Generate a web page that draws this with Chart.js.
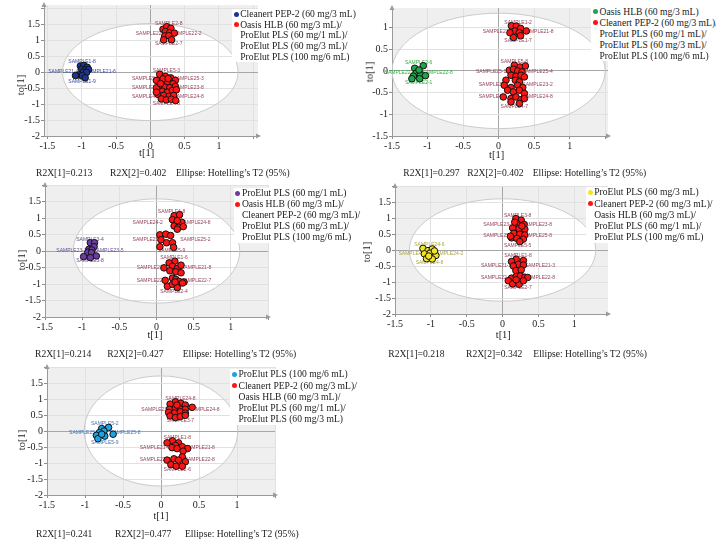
<!DOCTYPE html>
<html>
<head>
<meta charset="utf-8">
<script src="https://cdn.jsdelivr.net/npm/chart.js@4.4.0/dist/chart.umd.min.js"></script>
<style>
  html, body { margin: 0; padding: 0; background: #fff; }
  #page { position: relative; width: 716px; height: 546px; overflow: hidden;
          font-family: "Liberation Serif", "Times New Roman", serif; color: #222; }
  #page canvas { position: absolute; }
  .txt { position: absolute; white-space: nowrap; line-height: 1; }
  .dot { position: absolute; width: 5px; height: 5px; border-radius: 50%; }
  .legbox { position: absolute; background: #fff; }
</style>
</head>
<body>
<div id="page"></div>
<script>
// ---------- tick labels ----------
const xTickLabels = ['-1.5', '-1', '-0.5', '0', '0.5', '1'];
const yTickLabels = ['-2', '-1.5', '-1', '-0.5', '0', '0.5', '1', '1.5'];

// ---------- scores: [t[1], to[1]] ----------
// Panel 1: Cleanert PEP-2 vs. the other cartridges
const p1Group = [[-1.02,0.19],[-0.97,0.21],[-0.92,0.15],[-1.0,0.09],[-0.95,0.07],[-0.90,0.08],
  [-0.98,0.0],[-0.93,-0.01],[-1.04,-0.09],[-0.99,-0.11],[-0.95,-0.18],[-1.09,-0.11]];
const p1RestUpper = [[0.185,1.34],[0.24,1.42],[0.30,1.37],[0.22,1.27],[0.28,1.23],[0.35,1.22],
  [0.21,1.13],[0.27,1.14],[0.195,1.01],[0.31,1.01]];
const p1RestLower = [[0.137,-0.07],[0.22,-0.135],[0.297,-0.18],[0.365,-0.26],[0.089,-0.26],[0.176,-0.29],
  [0.249,-0.31],[0.331,-0.365],[0.137,-0.43],[0.21,-0.47],[0.283,-0.49],[0.365,-0.45],[0.089,-0.49],
  [0.176,-0.60],[0.249,-0.63],[0.322,-0.575],[0.38,-0.555],[0.113,-0.70],[0.195,-0.73],[0.273,-0.76],
  [0.341,-0.73],[0.161,-0.84],[0.234,-0.87],[0.307,-0.85],[0.37,-0.89],[0.089,-0.63],[0.185,-0.21],
  [0.26,-0.2],[0.15,-0.36]];

// Panel 2: Oasis HLB vs. the other cartridges
const p2Group = [[-1.06,0.12],[-1.18,0.06],[-1.13,-0.01],[-1.16,-0.05],[-1.10,-0.08],[-1.03,-0.11],
  [-1.20,-0.12],[-1.22,-0.18],[-1.11,-0.18],[-1.12,0.02]];
const p2RestUpper = [[0.18,1.04],[0.25,1.03],[0.31,0.98],[0.39,0.92],[0.23,0.92],[0.16,0.88],
  [0.29,0.88],[0.31,0.81],[0.21,0.77]];
const p2RestLower = [[0.222,0.13],[0.302,0.09],[0.377,0.115],[0.151,0.016],[0.208,0.04],[0.269,0.0],
  [0.33,-0.023],[0.175,-0.1],[0.245,-0.122],[0.316,-0.1],[0.363,-0.138],[0.104,-0.214],[0.236,-0.214],
  [0.293,-0.253],[0.08,-0.33],[0.175,-0.383],[0.269,-0.33],[0.34,-0.383],[0.127,-0.445],[0.208,-0.484],
  [0.293,-0.445],[0.363,-0.52],[0.066,-0.6],[0.175,-0.636],[0.245,-0.6],[0.316,-0.66],[0.363,-0.636],
  [0.175,-0.714],[0.293,-0.75]];

// Panel 3: ProElut PLS (60 mg/1 mL) vs. the other cartridges
const p3Group = [[-0.89,0.25],[-0.835,0.25],[-0.84,0.13],[-0.91,0.05],[-0.87,0.03],[-0.925,-0.04],
  [-0.875,-0.05],[-0.81,-0.15],[-0.98,-0.17],[-0.89,-0.2]];
const p3RestUpper = [[0.237,1.07],[0.31,1.10],[0.215,0.95],[0.27,0.85],[0.34,0.87],[0.237,0.76],
  [0.295,0.72],[0.36,0.74],[0.045,0.49],[0.125,0.51],[0.19,0.47],[0.06,0.34],[0.135,0.25],[0.215,0.25],
  [0.045,0.13],[0.23,0.11],[0.28,0.92],[0.28,0.66]];
const p3RestLower = [[0.246,-0.31],[0.17,-0.36],[0.10,-0.51],[0.215,-0.46],[0.28,-0.53],[0.33,-0.43],
  [0.18,-0.60],[0.26,-0.63],[0.33,-0.66],[0.117,-0.89],[0.215,-0.82],[0.26,-0.86],[0.30,-0.92],
  [0.37,-0.94],[0.147,-1.07],[0.215,-1.01],[0.28,-1.11],[0.35,-0.97],[0.25,-0.94]];

// Panel 4: ProElut PLS (60 mg/3 mL) vs. the other cartridges
const p4Group = [[-1.11,0.05],[-1.04,-0.02],[-0.98,0.03],[-1.09,-0.12],[-1.01,-0.10],[-0.93,-0.17],
  [-1.06,-0.27],[-0.98,-0.28],[-0.95,-0.03],[-1.03,-0.19]];
const p4RestUpper = [[0.185,0.98],[0.26,0.93],[0.20,0.83],[0.30,0.80],[0.14,0.69],[0.23,0.67],
  [0.31,0.65],[0.157,0.52],[0.24,0.49],[0.31,0.47],[0.125,0.38],[0.20,0.36],[0.29,0.34],[0.24,0.26],
  [0.11,0.43],[0.27,0.75],[0.17,0.87]];
const p4RestLower = [[0.19,-0.29],[0.29,-0.33],[0.125,-0.36],[0.22,-0.45],[0.29,-0.47],[0.15,-0.50],
  [0.185,-0.64],[0.26,-0.62],[0.125,-0.88],[0.19,-0.83],[0.25,-0.81],[0.31,-0.85],[0.35,-0.86],
  [0.08,-0.96],[0.14,-1.06],[0.23,-1.07],[0.29,-0.96],[0.19,-0.93]];

// Panel 5: ProElut PLS (100 mg/6 mL) vs. the other cartridges
const p5Group = [[-0.69,0.11],[-0.78,0.075],[-0.75,0.0],[-0.81,-0.05],[-0.63,-0.10],[-0.74,-0.16],
  [-0.85,-0.135],[-0.83,-0.24],[-0.78,-0.10]];
const p5RestUpper = [[0.19,0.91],[0.26,0.87],[0.32,0.81],[0.12,0.84],[0.11,0.68],[0.19,0.71],
  [0.255,0.68],[0.32,0.68],[0.41,0.74],[0.10,0.58],[0.18,0.56],[0.255,0.60],[0.32,0.56],[0.12,0.47],
  [0.19,0.42],[0.255,0.45],[0.32,0.49],[0.21,0.81]];
const p5RestLower = [[0.15,-0.31],[0.08,-0.37],[0.23,-0.37],[0.19,-0.45],[0.28,-0.49],[0.145,-0.52],
  [0.21,-0.55],[0.35,-0.55],[0.29,-0.63],[0.28,-0.81],[0.08,-0.91],[0.17,-0.87],[0.23,-0.91],
  [0.32,-0.96],[0.13,-1.05],[0.20,-1.10],[0.28,-1.10]];

// ---------- Hotelling's T2 (95%) ellipse semi-axes [t, to] ----------
const p1Ellipse = [1.28, 1.52];
const p2Ellipse = [1.50, 1.33];
const p3Ellipse = [1.12, 1.58];
const p4Ellipse = [1.30, 1.60];
const p5Ellipse = [1.01, 1.72];

// ---------- legends and model statistics ----------
const p1Legend = ['Cleanert PEP-2 (60 mg/3 mL)', 'Oasis HLB (60 mg/3 mL)/', 'ProElut PLS (60 mg/1 mL)/',
  'ProElut PLS (60 mg/3 mL)/', 'ProElut PLS (100 mg/6 mL)'];
const p2Legend = ['Oasis HLB (60 mg/3 mL)', 'Cleanert PEP-2 (60 mg/3 mL)/', 'ProElut PLS (60 mg/1 mL)/',
  'ProElut PLS (60 mg/3 mL)/', 'ProElut PLS (100 mg/6 mL)'];
const p3Legend = ['ProElut PLS (60 mg/1 mL)', 'Oasis HLB (60 mg/3 mL)/', 'Cleanert PEP-2 (60 mg/3 mL)/',
  'ProElut PLS (60 mg/3 mL)/', 'ProElut PLS (100 mg/6 mL)'];
const p4Legend = ['ProElut PLS (60 mg/3 mL)', 'Cleanert PEP-2 (60 mg/3 mL)/', 'Oasis HLB (60 mg/3 mL)/',
  'ProElut PLS (60 mg/1 mL)/', 'ProElut PLS (100 mg/6 mL)'];
const p5Legend = ['ProElut PLS (100 mg/6 mL)', 'Cleanert PEP-2 (60 mg/3 mL)/', 'Oasis HLB (60 mg/3 mL)/',
  'ProElut PLS (60 mg/1 mL)/', 'ProElut PLS (60 mg/3 mL)'];

const p1Stats = ['R2X[1]=0.213', 'R2X[2]=0.402', 'Ellipse: Hotelling\u2019s T2 (95%)'];
const p2Stats = ['R2X[1]=0.297', 'R2X[2]=0.402', 'Ellipse: Hotelling\u2019s T2 (95%)'];
const p3Stats = ['R2X[1]=0.214', 'R2X[2]=0.427', 'Ellipse: Hotelling\u2019s T2 (95%)'];
const p4Stats = ['R2X[1]=0.218', 'R2X[2]=0.342', 'Ellipse: Hotelling\u2019s T2 (95%)'];
const p5Stats = ['R2X[1]=0.241', 'R2X[2]=0.477', 'Ellipse: Hotelling\u2019s T2 (95%)'];

// ---------- observation name tags around each cluster ----------
const p1Tags = [
  { top: 'SAMPLE1-8', left: ['SAMPLE21-4'], right: ['SAMPLE21-6'], bottom: 'SAMPLE1-9' },
  { top: 'SAMPLE2-8', left: ['SAMPLE22-3'], right: ['SAMPLE22-2'], bottom: 'SAMPLE2-7' },
  { top: 'SAMPLE5-3', left: ['SAMPLE5-6', 'SAMPLE3-2', 'SAMPLE4-1'], right: ['SAMPLE25-3', 'SAMPLE23-8', 'SAMPLE24-8'], bottom: 'SAMPLE4-8' }];
const p2Tags = [
  { top: 'SAMPLE2-6', left: ['SAMPLE22-4'], right: ['SAMPLE22-8'], bottom: 'SAMPLE2-1' },
  { top: 'SAMPLE1-2', left: ['SAMPLE21-3'], right: ['SAMPLE21-8'], bottom: 'SAMPLE1-7' },
  { top: 'SAMPLE5-8', left: ['SAMPLE25-1', 'SAMPLE3-4', 'SAMPLE4-3'], right: ['SAMPLE25-4', 'SAMPLE23-2', 'SAMPLE24-8'], bottom: 'SAMPLE4-7' }];
const p3Tags = [
  { top: 'SAMPLE3-4', left: ['SAMPLE23-1'], right: ['SAMPLE23-5'], bottom: 'SAMPLE3-8' },
  { top: 'SAMPLE4-8', left: ['SAMPLE24-2', 'SAMPLE25-1'], right: ['SAMPLE24-8', 'SAMPLE25-2'], bottom: 'SAMPLE5-9' },
  { top: 'SAMPLE1-6', left: ['SAMPLE21-3', 'SAMPLE22-1'], right: ['SAMPLE21-8', 'SAMPLE22-7'], bottom: 'SAMPLE2-4' }];
const p4Tags = [
  { top: 'SAMPLE24-6', left: ['SAMPLE4-1'], right: ['SAMPLE24-2'], bottom: 'SAMPLE4-8' },
  { top: 'SAMPLE3-8', left: ['SAMPLE23-1', 'SAMPLE25-3'], right: ['SAMPLE23-8', 'SAMPLE25-8'], bottom: 'SAMPLE5-5' },
  { top: 'SAMPLE1-8', left: ['SAMPLE21-2', 'SAMPLE22-3'], right: ['SAMPLE21-3', 'SAMPLE22-8'], bottom: 'SAMPLE2-7' }];
const p5Tags = [
  { top: 'SAMPLE5-2', left: ['SAMPLE25-4'], right: ['SAMPLE25-8'], bottom: 'SAMPLE5-9' },
  { top: 'SAMPLE24-8', left: ['SAMPLE23-6'], right: ['SAMPLE24-8'], bottom: 'SAMPLE3-7' },
  { top: 'SAMPLE1-8', left: ['SAMPLE21-6', 'SAMPLE22-3'], right: ['SAMPLE21-8', 'SAMPLE22-8'], bottom: 'SAMPLE2-6' }];

// ---------- panel layout (page pixels) and styling ----------
const REST_COLOR = '#ff1414';
const REST_TAG = '#93435c';
const panels = [
  { area: [44, 5, 258, 136], xr: [-1.55, 1.57], yr: [-2, 2.1], ellipse: p1Ellipse,
    color: '#1d3591', tagColor: '#3c4c9e', group: p1Group, rest: [p1RestUpper, p1RestLower], tags: p1Tags,
    legend: p1Legend, stats: p1Stats, legendAt: [236, 14, 10.7], statsAt: [172.7, 36, 110, 176],
    xTitleAt: [146.7, 153], yTitleAt: [20.7, 85] },
  { area: [392, 8, 608, 136], xr: [-1.5, 1.54], yr: [-1.5, 1.45], ellipse: p2Ellipse,
    color: '#1fa64b', tagColor: '#35b045', group: p2Group, rest: [p2RestUpper, p2RestLower], tags: p2Tags,
    legend: p2Legend, stats: p2Stats, legendAt: [595.3, 11.7, 11], statsAt: [172.7, 403.3, 467.3, 532.7],
    xTitleAt: [496.7, 155], yTitleAt: [370, 71.7] },
  { area: [45, 185, 268, 317], xr: [-1.5, 1.5], yr: [-2, 2], ellipse: p3Ellipse,
    color: '#6a3d9e', tagColor: '#654a90', group: p3Group, rest: [p3RestUpper, p3RestLower], tags: p3Tags,
    legend: p3Legend, stats: p3Stats, legendAt: [237.7, 193.3, 11], statsAt: [354, 35, 107.3, 182.7],
    xTitleAt: [155, 335], yTitleAt: [21.7, 260] },
  { area: [395, 186, 608, 314], xr: [-1.5, 1.47], yr: [-2, 2], ellipse: p4Ellipse,
    color: '#f3e526', tagColor: '#a9a647', group: p4Group, rest: [p4RestUpper, p4RestLower], tags: p4Tags,
    legend: p4Legend, stats: p4Stats, legendAt: [590, 192.3, 11.2], statsAt: [354, 388.3, 466, 533.3],
    xTitleAt: [503.3, 335], yTitleAt: [366.7, 251.7] },
  { area: [47, 367, 275, 495], xr: [-1.5, 1.5], yr: [-2, 2], ellipse: p5Ellipse,
    color: '#1fa2e2', tagColor: '#4474b3', group: p5Group, rest: [p5RestUpper, p5RestLower], tags: p5Tags,
    legend: p5Legend, stats: p5Stats, legendAt: [234.3, 374.3, 11.2], statsAt: [534, 36, 115, 185],
    xTitleAt: [161, 516], yTitleAt: [21.7, 440] }
];

const page = document.getElementById('page');
const fmt = v => String(Math.round(v * 10) / 10);

function addText(text, x, y, size, extra) {
  const d = document.createElement('div');
  d.className = 'txt';
  d.textContent = text;
  d.style.left = x + 'px';
  d.style.top = y + 'px';
  d.style.fontSize = size + 'px';
  d.style.transform = extra || 'translateY(-50%)';
  page.appendChild(d);
  return d;
}

// Background, confidence ellipse, observation tags and axis arrows for one score plot
function scoreDecor(p) {
  const ellipsePath = (ctx, x, y) => {
    const cx = x.getPixelForValue(0), cy = y.getPixelForValue(0);
    const rx = x.getPixelForValue(p.ellipse[0]) - cx;
    const ry = cy - y.getPixelForValue(p.ellipse[1]);
    ctx.beginPath();
    ctx.ellipse(cx, cy, rx, ry, 0, 0, Math.PI * 2);
  };
  const clipArea = (ctx, a) => { ctx.beginPath(); ctx.rect(a.left, a.top, a.width, a.height); ctx.clip(); };
  return {
    id: 'scoreDecor',
    beforeDraw(chart) {
      const { ctx, chartArea: a, scales: { x, y } } = chart;
      ctx.save();
      ctx.fillStyle = '#efefef';
      ctx.fillRect(a.left, a.top, a.width, a.height);
      clipArea(ctx, a);
      ellipsePath(ctx, x, y);
      ctx.fillStyle = '#ffffff';
      ctx.fill();
      ctx.restore();
    },
    beforeDatasetsDraw(chart) {
      const { ctx, chartArea: a, scales: { x, y } } = chart;
      ctx.save();
      clipArea(ctx, a);
      ellipsePath(ctx, x, y);
      ctx.strokeStyle = '#cbcbcb';
      ctx.lineWidth = 1;
      ctx.stroke();
      ctx.restore();

      ctx.save();
      ctx.font = '5px "Liberation Sans", Arial, sans-serif';
      const clusters = [p.group, ...p.rest];
      clusters.forEach((pts, k) => {
        const tag = p.tags[k];
        const px = pts.map(d => x.getPixelForValue(d[0]));
        const py = pts.map(d => y.getPixelForValue(d[1]));
        const x0 = Math.min(...px), x1 = Math.max(...px);
        const y0 = Math.min(...py), y1 = Math.max(...py);
        const xc = (x0 + x1) / 2;
        ctx.fillStyle = k === 0 ? p.tagColor : REST_TAG;
        ctx.textAlign = 'center';
        ctx.textBaseline = 'bottom';
        ctx.fillText(tag.top, xc, y0 - 1);
        ctx.textBaseline = 'top';
        ctx.fillText(tag.bottom, xc, y1 + 1);
        ctx.textBaseline = 'middle';
        ctx.textAlign = 'right';
        tag.left.forEach((t, i) => ctx.fillText(t, x0 + 3, y0 + (i + 0.5) * (y1 - y0) / tag.left.length));
        ctx.textAlign = 'left';
        tag.right.forEach((t, i) => ctx.fillText(t, x1 - 3, y0 + (i + 0.5) * (y1 - y0) / tag.right.length));
      });
      ctx.restore();
    },
    afterDraw(chart) {
      const { ctx, chartArea: a } = chart;
      ctx.save();
      ctx.fillStyle = '#9a9a9a';
      ctx.beginPath();
      ctx.moveTo(a.right + 3, a.bottom);
      ctx.lineTo(a.right - 2, a.bottom - 2.5);
      ctx.lineTo(a.right - 2, a.bottom + 2.5);
      ctx.closePath();
      ctx.fill();
      ctx.beginPath();
      ctx.moveTo(a.left, a.top - 3);
      ctx.lineTo(a.left - 2.5, a.top + 2);
      ctx.lineTo(a.left + 2.5, a.top + 2);
      ctx.closePath();
      ctx.fill();
      ctx.restore();
    }
  };
}

function axisOptions(range, labels, isX) {
  return {
    type: 'linear',
    min: range[0],
    max: range[1],
    afterFit: s => { if (isX) s.height = 16; else s.width = 34; },
    ticks: {
      stepSize: 0.5,
      includeBounds: false,
      autoSkip: false,
      maxRotation: 0,
      padding: 1,
      color: '#222',
      font: { family: '"Liberation Serif", "Times New Roman", serif', size: 10 },
      callback: v => { const s = fmt(v); return labels.includes(s) ? s : ''; }
    },
    grid: {
      color: c => (c.tick && Math.abs(c.tick.value) < 1e-9) ? '#a6a6a6' : '#e1e1e1',
      lineWidth: 1,
      tickLength: 3,
      tickColor: '#8c8c8c'
    },
    border: { display: true, color: '#9a9a9a', width: 1 }
  };
}

function buildPanel(p) {
  const [L, T, R, B] = p.area;
  const YW = 34, XH = 16, PT = 8, PR = 8;
  const w = R - L + YW + PR, h = B - T + XH + PT;
  const canvas = document.createElement('canvas');
  canvas.width = w; canvas.height = h;
  canvas.style.left = (L - YW) + 'px';
  canvas.style.top = (T - PT) + 'px';
  canvas.style.width = w + 'px';
  canvas.style.height = h + 'px';
  page.appendChild(canvas);

  const toXY = arr => arr.map(d => ({ x: d[0], y: d[1] }));
  const pointStyle = color => ({ backgroundColor: color, borderColor: '#111', borderWidth: 1,
                                 pointRadius: 3.3, pointHoverRadius: 3.3 });
  new Chart(canvas, {
    type: 'scatter',
    data: {
      datasets: [
        Object.assign({ data: toXY(p.group) }, pointStyle(p.color)),
        ...p.rest.map(r => Object.assign({ data: toXY(r) }, pointStyle(REST_COLOR)))
      ]
    },
    options: {
      responsive: false,
      animation: false,
      devicePixelRatio: 1,
      layout: { padding: { top: PT, right: PR, left: 0, bottom: 0 } },
      plugins: { legend: { display: false }, tooltip: { enabled: false } },
      scales: { x: axisOptions(p.xr, xTickLabels, true), y: axisOptions(p.yr, yTickLabels, false) }
    },
    plugins: [scoreDecor(p)]
  });

  // axis titles
  addText('t[1]', p.xTitleAt[0], p.xTitleAt[1], 10.5, 'translate(-50%,-50%)');
  addText('to[1]', p.yTitleAt[0], p.yTitleAt[1], 10.5, 'translate(-50%,-50%) rotate(-90deg)');

  // legend
  const [dx, y0, step] = p.legendAt;
  const box = document.createElement('div');
  box.className = 'legbox';
  box.style.left = (dx - 4) + 'px';
  box.style.top = (y0 - step / 2) + 'px';
  box.style.width = '140px';
  box.style.height = (step * p.legend.length) + 'px';
  page.appendChild(box);
  p.legend.forEach((t, i) => {
    const cy = y0 + i * step;
    if (i < 2) {
      const d = document.createElement('div');
      d.className = 'dot';
      d.style.left = (dx - 2.5) + 'px';
      d.style.top = (cy - 2.5) + 'px';
      d.style.background = i === 0 ? p.color : REST_COLOR;
      page.appendChild(d);
    }
    addText(t, dx + 4.2, cy, 9.6);
  });

  // model statistics
  const [sy, s1, s2, s3] = p.statsAt;
  addText(p.stats[0], s1, sy, 9.6);
  addText(p.stats[1], s2, sy, 9.6);
  addText(p.stats[2], s3, sy, 9.6);
}

panels.forEach(buildPanel);
</script>
</body>
</html>
